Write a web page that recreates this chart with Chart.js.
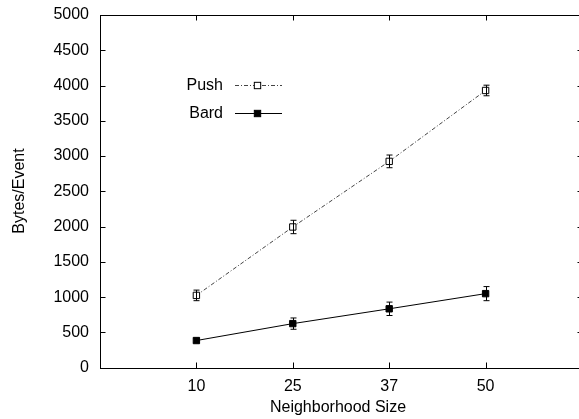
<!DOCTYPE html>
<html>
<head>
<meta charset="utf-8">
<script src="https://cdn.jsdelivr.net/npm/chart.js@4/dist/chart.umd.min.js"></script>
<style>
  html, body { margin: 0; padding: 0; background: #fff; }
  #wrap { width: 579px; height: 419px; }
</style>
</head>
<body>
<div id="wrap"><canvas id="chart" width="579" height="419"></canvas></div>
<script>
// Bytes per event vs neighborhood size

const sizes = ['10', '25', '37', '50'];
const pushBytes = [1025, 1995, 2925, 3930];
const pushErr = [75, 95, 90, 75];
const bardBytes = [385, 625, 835, 1050];
const bardErr = [30, 80, 95, 100];
const yTicks = [0, 500, 1000, 1500, 2000, 2500, 3000, 3500, 4000, 4500, 5000];

const FONT = '16px "Liberation Sans", Arial, sans-serif';
const X_END = 5;          // the plot box ends at x = 5, just past the canvas edge
const PX_PER_STEP = 96.4; // spacing between neighborhood sizes

function toPoints(values, errs) {
    return values.map((v, i) => ({ x: i + 1, y: v, err: errs[i] }));
}

// error bars, inside ticks, frame, legend and axis titles
const decorations = {
    id: 'decorations',
    afterDatasetsDraw(chart) {
        const ctx = chart.ctx;
        const area = chart.chartArea;
        const xs = chart.scales.x;
        const ys = chart.scales.y;

        ctx.save();
        ctx.strokeStyle = '#000';
        ctx.lineWidth = 1;

        // error bars
        chart.data.datasets.forEach(ds => {
            ds.data.forEach(p => {
                const px = Math.round(xs.getPixelForValue(p.x)) + 0.5;
                const top = ys.getPixelForValue(p.y + p.err);
                const bot = ys.getPixelForValue(p.y - p.err);
                ctx.beginPath();
                ctx.moveTo(px, top); ctx.lineTo(px, bot);
                ctx.moveTo(px - 3, top); ctx.lineTo(px + 3, top);
                ctx.moveTo(px - 3, bot); ctx.lineTo(px + 3, bot);
                ctx.stroke();
            });
        });

        // frame
        const left = Math.round(area.left) + 0.5;
        const right = Math.round(xs.getPixelForValue(X_END)) + 0.5;
        const top = Math.round(area.top) + 0.5;
        const bottom = Math.round(area.bottom) + 0.5;
        ctx.strokeRect(left, top, right - left, bottom - top);

        // y ticks, left and right
        yTicks.forEach(v => {
            const py = Math.round(ys.getPixelForValue(v)) + 0.5;
            ctx.beginPath();
            ctx.moveTo(left, py); ctx.lineTo(left + 5, py);
            ctx.moveTo(right, py); ctx.lineTo(right - 5, py);
            ctx.stroke();
        });

        // x ticks, bottom and top
        sizes.forEach((s, i) => {
            const px = Math.round(xs.getPixelForValue(i + 1)) + 0.5;
            ctx.beginPath();
            ctx.moveTo(px, bottom); ctx.lineTo(px, bottom - 6);
            ctx.moveTo(px, top); ctx.lineTo(px, top + 5);
            ctx.stroke();
        });

        // legend
        ctx.font = FONT;
        ctx.textAlign = 'right';
        ctx.textBaseline = 'middle';
        chart.data.datasets.forEach((ds, i) => {
            const ly = Math.round(85 + i * 27.5) + 0.5;
            ctx.fillStyle = '#000';
            ctx.fillText(ds.label, 223, ly);
            ctx.save();
            ctx.strokeStyle = ds.borderColor;
            ctx.lineWidth = ds.borderWidth;
            ctx.setLineDash(ds.borderDash || []);
            ctx.beginPath();
            ctx.moveTo(235, ly);
            ctx.lineTo(282, ly);
            ctx.stroke();
            ctx.restore();
            const s = ds.pointRadius * Math.SQRT1_2;
            ctx.fillStyle = ds.pointBackgroundColor;
            ctx.strokeStyle = '#000';
            ctx.fillRect(257.5 - s, ly - s, 2 * s, 2 * s);
            ctx.strokeRect(257.5 - s, ly - s, 2 * s, 2 * s);
        });

        // axis titles
        ctx.fillStyle = '#000';
        ctx.textAlign = 'center';
        ctx.fillText('Neighborhood Size', 338, 408);
        ctx.translate(20, 191);
        ctx.rotate(-Math.PI / 2);
        ctx.fillText('Bytes/Event', 0, 0);
        ctx.restore();
    }
};

new Chart(document.getElementById('chart').getContext('2d'), {
    type: 'line',
    data: {
        datasets: [
            {
                label: 'Push',
                data: toPoints(pushBytes, pushErr),
                borderColor: '#444',
                borderWidth: 1,
                borderDash: [4, 2, 1, 2],
                pointStyle: 'rect',
                pointRadius: 4.5,
                pointBorderWidth: 1,
                pointBorderColor: '#000',
                pointBackgroundColor: '#fff',
                tension: 0
            },
            {
                label: 'Bard',
                data: toPoints(bardBytes, bardErr),
                borderColor: '#000',
                borderWidth: 1,
                pointStyle: 'rect',
                pointRadius: 4.5,
                pointBorderWidth: 1,
                pointBorderColor: '#000',
                pointBackgroundColor: '#000',
                tension: 0
            }
        ]
    },
    options: {
        responsive: false,
        animation: false,
        layout: { padding: { top: 15, right: 0, left: 0, bottom: 0 } },
        plugins: {
            legend: { display: false },
            tooltip: { enabled: false }
        },
        scales: {
            x: {
                type: 'linear',
                bounds: 'data',
                min: 0,
                max: X_END,
                grid: { display: false, drawTicks: false },
                border: { display: false },
                afterDataLimits: scale => {
                    // visible part of the axis: keep the step spacing fixed
                    scale.min = 0;
                    scale.max = scale.width / PX_PER_STEP;
                },
                afterBuildTicks: scale => {
                    scale.ticks = sizes.map((s, i) => ({ value: i + 1 }));
                },
                afterFit: scale => {
                    scale.height = 51.3;
                    scale.paddingLeft = 0;
                    scale.paddingRight = 0;
                },
                ticks: {
                    padding: 9,
                    color: '#000',
                    font: { family: '"Liberation Sans", Arial, sans-serif', size: 16 },
                    callback: v => sizes[v - 1]
                }
            },
            y: {
                min: 0,
                max: 5000,
                grid: { display: false, drawTicks: false },
                border: { display: false },
                afterBuildTicks: scale => {
                    scale.ticks = yTicks.map(v => ({ value: v }));
                },
                afterFit: scale => {
                    scale.width = 100;
                    scale.paddingTop = 0;
                    scale.paddingBottom = 0;
                },
                ticks: {
                    padding: 11,
                    color: '#000',
                    font: { family: '"Liberation Sans", Arial, sans-serif', size: 16 },
                    callback: v => String(v)
                }
            }
        }
    },
    plugins: [decorations]
});
</script>
</body>
</html>
